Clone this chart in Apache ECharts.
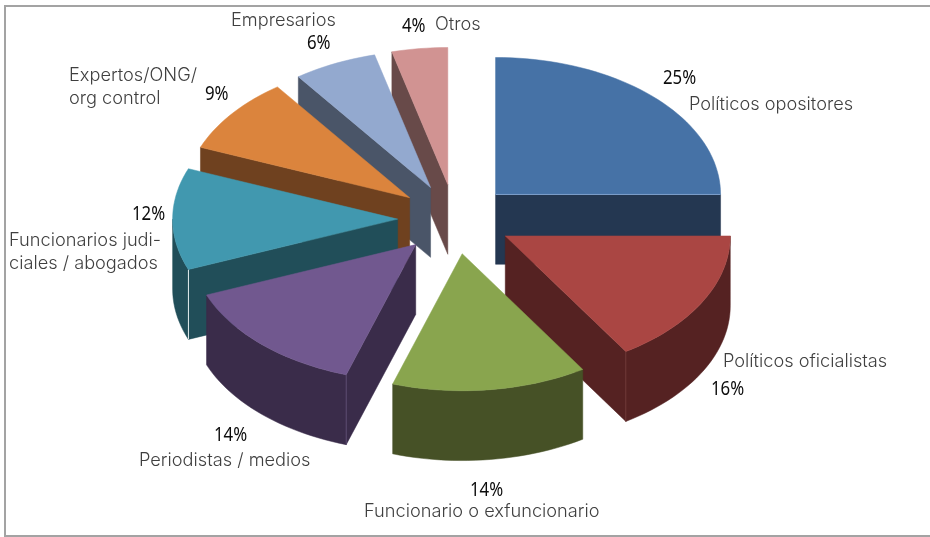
<!DOCTYPE html>
<html lang="es">
<head>
<meta charset="utf-8">
<title>Fuentes citadas</title>
<style>
  html, body { margin: 0; padding: 0; background: #fff; }
  #chart { width: 930px; height: 537px; }
</style>
<script src="https://cdn.jsdelivr.net/npm/echarts@6/dist/echarts.min.js"></script>
</head>
<body>
<div id="chart"></div>
<script>
// Share of each source group, in percent, clockwise from twelve o'clock.
const categories = [
  'Políticos opositores', 'Políticos oficialistas', 'Funcionario o exfuncionario',
  'Periodistas / medios', 'Funcionarios judi-\nciales / abogados',
  'Expertos/ONG/\norg control', 'Empresarios', 'Otros'
];
const shares = [25, 16, 14, 14, 12, 9, 6, 4];

// Top faces and the darker extruded sides.
const topColors  = ['#4672A6', '#AA4643', '#89A54E', '#71588F', '#4198AF', '#DB843D', '#93A9CF', '#D19392'];
const sideColors = ['#243751', '#552222', '#465126', '#3A2C4A', '#214E59', '#6F411F', '#4A5568', '#684A49'];
const seamColors = ['#7FA0CC', '#6E3735', '#5B6B34', '#5A4A70', '#E6EEF0', '#7C4A24', '#566276', '#735453'];

// Text anchors: [name x, name y, percent x, percent y].
const labelAnchors = [
  [689, 105, 663, 78],
  [723, 362, 711, 389],
  [364, 512, 470, 490],
  [139, 461, 214, 435],
  [9, 252, 132, 214],
  [69, 87, 205, 94],
  [231, 21, 307, 43],
  [435, 25, 402, 26]
];

const EXPLODE = 0.255;   // slice offset along its bisector, in radii
const DEPTH = 0.51;      // extrusion height, in vertical radii
const ARC_STEP = Math.PI / 90;

const total = shares.reduce((a, b) => a + b, 0);
const spans = [];
shares.reduce((acc, v) => {
  spans.push([acc / total * 2 * Math.PI, (acc + v) / total * 2 * Math.PI]);
  return acc + v;
}, 0);

const rim = t => [Math.sin(t), -Math.cos(t)];
const arc = (from, to) => {
  const n = Math.max(1, Math.ceil((to - from) / ARC_STEP));
  const pts = [];
  for (let i = 0; i <= n; i++) pts.push(rim(from + (to - from) * i / n));
  return pts;
};

// Back slices are painted first so that the front ones overlap them.
const paintOrder = shares.map((_, i) => i).sort((a, b) => {
  const mid = i => (spans[i][0] + spans[i][1]) / 2;
  return -Math.cos(mid(a)) + Math.cos(mid(b));
});

function renderSlice(params, api) {
  const i = api.value(1);
  const [t0, t1] = spans[i];
  const mid = (t0 + t1) / 2;
  const [ox, oy] = rim(mid).map(v => v * EXPLODE);
  const place = (p, drop) => api.coord([p[0] + ox, p[1] + oy + (drop || 0)]);
  const poly = (pts, fill, extra) => ({
    type: 'polygon',
    shape: { points: pts },
    style: Object.assign({ fill: fill, stroke: fill, lineWidth: 0.5 }, extra || {})
  });
  const children = [];
  const inner = rim(mid);

  // Straight cut faces: shown only where the slice lies above the cut.
  [t0, t1].forEach(t => {
    const p = rim(t);
    let nx = -p[1], ny = p[0];
    if (nx * inner[0] + ny * inner[1] > 0) { nx = -nx; ny = -ny; }
    if (ny > 1e-6) {
      children.push(poly([
        place([0, 0]), place(p), place(p, DEPTH), place([0, 0], DEPTH)
      ], sideColors[i]));
    }
  });

  // Curved outer wall, limited to the near half of the ellipse.
  const from = Math.max(t0, Math.PI / 2);
  const to = Math.min(t1, 3 * Math.PI / 2);
  if (to > from) {
    const edge = arc(from, to);
    children.push(poly(
      edge.map(p => place(p)).concat(edge.slice().reverse().map(p => place(p, DEPTH))),
      sideColors[i]
    ));
  }

  // Thin seam where a visible cut face meets the wall.
  [t0, t1].forEach(t => {
    const p = rim(t);
    let nx = -p[1], ny = p[0];
    if (nx * inner[0] + ny * inner[1] > 0) { nx = -nx; ny = -ny; }
    if (ny > 1e-6 && p[1] > 0) {
      const a = place(p), b = place(p, DEPTH);
      children.push({
        type: 'line',
        shape: { x1: a[0], y1: a[1], x2: b[0], y2: b[1] },
        style: { stroke: seamColors[i], lineWidth: 1 }
      });
    }
  });

  // Top face.
  children.push(poly(
    [place([0, 0])].concat(arc(t0, t1).map(p => place(p))),
    topColors[i]
  ));

  // Lit front edge of the first slice.
  if (Math.abs(t1 - Math.PI / 2) < 1e-6) {
    const a = place([0, 0]), b = place(rim(t1));
    children.push({
      type: 'line',
      shape: { x1: a[0], y1: a[1], x2: b[0], y2: b[1] },
      style: { stroke: seamColors[i], lineWidth: 1 }
    });
  }
  return { type: 'group', children: children };
}

const NAME_FONT = '300 18.2px Inter, "Liberation Sans", sans-serif';
const VALUE_FONT = '20px "Noto Sans", sans-serif';
const VALUE_SQUEEZE = 0.84;

const labels = [];
categories.forEach((name, i) => {
  const [nx, ny, vx, vy] = labelAnchors[i];
  labels.push({
    type: 'text', silent: true,
    style: { x: nx, y: ny, text: name, font: NAME_FONT, fill: '#3f3f3f',
             textVerticalAlign: 'middle', lineHeight: 23 }
  });
  labels.push({
    type: 'text', silent: true,
    x: vx, y: vy, scaleX: VALUE_SQUEEZE,
    style: { x: 0, y: 0, text: shares[i] + '%', font: VALUE_FONT, fill: '#0c0c0c',
             textVerticalAlign: 'middle' }
  });
});

const chart = echarts.init(document.getElementById('chart'), null, { renderer: 'canvas' });
chart.setOption({
  animation: false,
  backgroundColor: '#ffffff',
  // One axis unit is one radius of the tilted pie.
  grid: { left: 5, width: 900, top: -0.2, height: 534.3 },
  xAxis: { type: 'value', min: -2, max: 2, show: false },
  yAxis: { type: 'value', min: -1.6, max: 2.3, inverse: true, show: false },
  graphic: { elements: [
    { type: 'rect', silent: true, z: -1,
      shape: { x: 5, y: 6, width: 940, height: 530 },
      style: { fill: 'none', stroke: '#a3a3a3', lineWidth: 2 } }
  ].concat(labels) },
  series: [{
    type: 'custom',
    coordinateSystem: 'cartesian2d',
    renderItem: renderSlice,
    clip: false,
    silent: true,
    encode: { x: 0, y: 0 },
    data: paintOrder.map(i => ({ name: categories[i], value: [shares[i], i] }))
  }]
});
</script>
</body>
</html>
